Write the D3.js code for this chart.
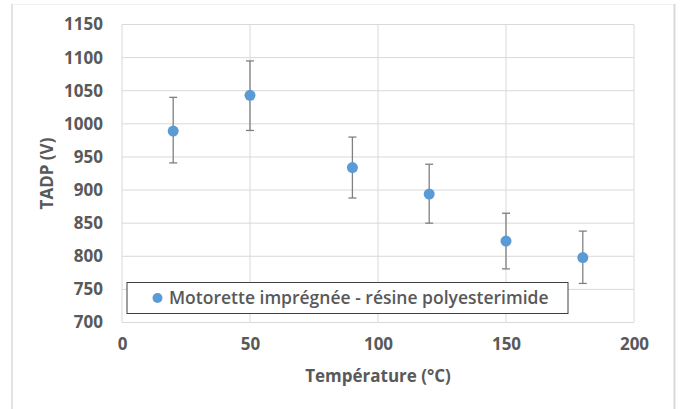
<!DOCTYPE html>
<html>
<head>
<meta charset="utf-8">
<script src="https://cdn.jsdelivr.net/npm/d3@7"></script>
<style>
  body { margin: 0; background: #fff; }
  svg { display: block; font-family: "Open Sans", "Liberation Sans", Arial, sans-serif; }
</style>
</head>
<body>
<div id="chart"></div>
<script>
// Data
const temperatures = [20, 50, 90, 120, 150, 180];
const tadp = [989, 1043, 934, 894, 823, 798];
const errUp = [51, 52, 46, 45, 42, 40];
const errDown = [48, 53, 46, 44, 42, 39];
const xTicks = [0, 50, 100, 150, 200];
const yTicks = [700, 750, 800, 850, 900, 950, 1000, 1050, 1100, 1150];
const seriesName = "Motorette imprégnée - résine polyesterimide";

const data = temperatures.map((t, i) => ({
    t: t, v: tadp[i], hi: tadp[i] + errUp[i], lo: tadp[i] - errDown[i]
}));

const W = 680, H = 409;
const margin = {top: 24.5, right: 46, bottom: 86.5, left: 122};
const width = W - margin.left - margin.right;
const height = H - margin.top - margin.bottom;
const font = "'Open Sans', 'Liberation Sans', Arial, sans-serif";

const root = d3.select("#chart").append("svg")
    .attr("width", W)
    .attr("height", H);

// Outer chart frame
root.append("line").attr("x1", 12).attr("x2", 12).attr("y1", 4).attr("y2", H)
    .attr("stroke", "#e3e3e3").attr("stroke-width", 2);
root.append("line").attr("x1", 13).attr("x2", 674).attr("y1", 4.5).attr("y2", 4.5)
    .attr("stroke", "#f2f2f2").attr("stroke-width", 1);
root.append("line").attr("x1", 674.5).attr("x2", 674.5).attr("y1", 4).attr("y2", H)
    .attr("stroke", "#d9d9d9").attr("stroke-width", 2);

const svg = root.append("g")
    .attr("transform", `translate(${margin.left},${margin.top})`);

const x = d3.scaleLinear().domain([0, 200]).range([0, width]);
const y = d3.scaleLinear().domain([700, 1150]).range([height, 0]);

// Gridlines
svg.append("g")
    .selectAll("line")
    .data(yTicks)
    .join("line")
    .attr("x1", 0).attr("x2", width)
    .attr("y1", d => y(d)).attr("y2", d => y(d))
    .attr("stroke", "#d9d9d9").attr("stroke-width", 1);

svg.append("g")
    .selectAll("line")
    .data(xTicks)
    .join("line")
    .attr("x1", d => x(d)).attr("x2", d => x(d))
    .attr("y1", 0).attr("y2", height)
    .attr("stroke", "#d9d9d9").attr("stroke-width", 1);

// Axes (labels only)
const xAxis = svg.append("g")
    .attr("transform", `translate(0,${height})`)
    .call(d3.axisBottom(x).tickValues(xTicks).tickFormat(d3.format("d")).tickSize(0).tickPadding(15));
const yAxis = svg.append("g")
    .call(d3.axisLeft(y).tickValues(yTicks).tickFormat(d3.format("d")).tickSize(0).tickPadding(19));

[xAxis, yAxis].forEach(a => {
    a.select(".domain").remove();
    a.selectAll("text")
        .attr("fill", "#595959")
        .style("font-size", "17px")
        .style("font-weight", "bold")
        .style("font-family", font);
});

// Axis titles
svg.append("text")
    .attr("x", width / 2)
    .attr("y", height + 59)
    .attr("text-anchor", "middle")
    .attr("fill", "#595959")
    .style("font-size", "17px")
    .style("font-weight", "bold")
    .text("Température (°C)");

svg.append("text")
    .attr("transform", "rotate(-90)")
    .attr("x", -height / 2)
    .attr("y", -69)
    .attr("text-anchor", "middle")
    .attr("fill", "#595959")
    .style("font-size", "17px")
    .style("font-weight", "bold")
    .text("TADP (V)");

// Error bars
const eb = svg.append("g")
    .selectAll("g")
    .data(data)
    .join("g")
    .attr("stroke", "#808080")
    .attr("stroke-width", 1.3);

eb.append("line")
    .attr("x1", d => x(d.t)).attr("x2", d => x(d.t))
    .attr("y1", d => y(d.hi)).attr("y2", d => y(d.lo));
eb.append("line")
    .attr("x1", d => x(d.t) - 4).attr("x2", d => x(d.t) + 4)
    .attr("y1", d => y(d.hi)).attr("y2", d => y(d.hi));
eb.append("line")
    .attr("x1", d => x(d.t) - 4).attr("x2", d => x(d.t) + 4)
    .attr("y1", d => y(d.lo)).attr("y2", d => y(d.lo));

// Points
svg.append("g")
    .selectAll("circle")
    .data(data)
    .join("circle")
    .attr("cx", d => x(d.t))
    .attr("cy", d => y(d.v))
    .attr("r", 5.5)
    .attr("fill", "#5b9bd5");

// Legend
const legend = root.append("g")
    .attr("transform", "translate(127,282.5)");

legend.append("rect")
    .attr("width", 441)
    .attr("height", 31)
    .attr("fill", "#fff")
    .attr("stroke", "#404040")
    .attr("stroke-width", 1);

legend.append("circle")
    .attr("cx", 30.5)
    .attr("cy", 15.5)
    .attr("r", 5)
    .attr("fill", "#5b9bd5");

legend.append("text")
    .attr("x", 42)
    .attr("y", 21.5)
    .attr("fill", "#595959")
    .style("font-size", "17.5px")
    .style("font-weight", "600")
    .text(seriesName);
</script>
</body>
</html>
